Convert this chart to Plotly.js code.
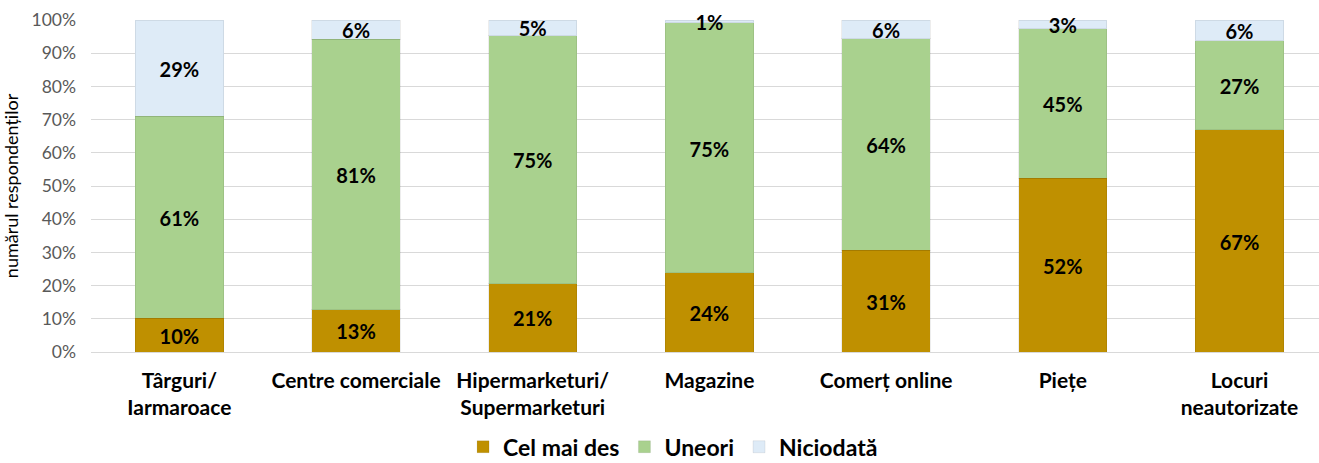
<!DOCTYPE html>
<html>
<head>
<meta charset="utf-8">
<script src="https://cdn.plot.ly/plotly-3.0.1.min.js"></script>
<style>
  body { margin: 0; background: #fff; }
  #chart { width: 1319px; height: 463px; }
</style>
</head>
<body>
<div id="chart"></div>
<script>
const categories = [
  'Târguri/<br>Iarmaroace',
  'Centre comerciale',
  'Hipermarketuri/<br>Supermarketuri',
  'Magazine',
  'Comerț online',
  'Piețe',
  'Locuri<br>neautorizate'
];

// share of respondents, %
const celMaiDes = [10.1, 12.8, 20.6, 23.8, 30.7, 52.4, 66.9];
const uneori    = [60.9, 81.4, 74.7, 75.3, 63.6, 44.9, 26.8];
const niciodata = [29.0, 5.8, 4.7, 0.9, 5.7, 2.7, 6.3];

const yTicks = [0, 10, 20, 30, 40, 50, 60, 70, 80, 90, 100];

const FONT = 'Lato, sans-serif';
// scatter text sits a touch high, pull labels down a bit
const LABEL_NUDGE = 1.1;

const seriesList = [
  { name: 'Cel mai des', values: celMaiDes, color: '#BF9000' },
  { name: 'Uneori', values: uneori, color: '#A9D18E' },
  { name: 'Niciodată', values: niciodata, color: '#DEEBF7' }
];

const traces = [];
const base = categories.map(() => 0);

seriesList.forEach(s => {
  traces.push({
    type: 'bar',
    name: s.name,
    x: categories,
    y: s.values,
    width: 0.5,
    marker: { color: s.color, line: { color: 'rgba(0,0,0,0.07)', width: 1 } },
    hoverinfo: 'skip'
  });
  // value labels centred in each segment
  traces.push({
    type: 'scatter',
    mode: 'text',
    x: categories,
    y: s.values.map((v, i) => base[i] + v / 2 - LABEL_NUDGE),
    text: s.values.map(v => Math.round(v) + '%'),
    textposition: 'middle center',
    textfont: { family: FONT, size: 20, color: '#000', weight: 'bold' },
    cliponaxis: false,
    showlegend: false,
    hoverinfo: 'skip'
  });
  s.values.forEach((v, i) => { base[i] += v; });
});

const layout = {
  width: 1319,
  height: 463,
  margin: { l: 91, r: 0, t: 20, b: 111, autoexpand: false },
  barmode: 'stack',
  paper_bgcolor: '#fff',
  plot_bgcolor: '#fff',
  font: { family: FONT, color: '#000' },
  xaxis: {
    range: [-0.5, 6.45],
    showline: false,
    showgrid: false,
    ticks: '',
    ticklabelstandoff: 14,
    tickfont: { family: FONT, size: 21, color: '#000', weight: 'bold' }
  },
  yaxis: {
    range: [0, 100],
    tickvals: yTicks,
    ticktext: yTicks.map(v => v + '%'),
    showgrid: true,
    gridcolor: '#d9d9d9',
    gridwidth: 1,
    zeroline: true,
    zerolinecolor: '#d9d9d9',
    ticks: '',
    ticklabelstandoff: 14,
    tickfont: { family: FONT, size: 17.5, color: '#595959' },
    title: {
      text: 'numărul respondenților',
      font: { family: FONT, size: 18, color: '#000' },
      standoff: 8
    }
  },
  legend: {
    orientation: 'h',
    x: 0.474,
    xanchor: 'center',
    yref: 'container',
    y: 0.035,
    yanchor: 'middle',
    itemwidth: 30,
    font: { family: FONT, size: 23, color: '#000', weight: 'bold' },
    traceorder: 'normal'
  },
  showlegend: true
};

Plotly.newPlot('chart', traces, layout, { staticPlot: true });
</script>
</body>
</html>
